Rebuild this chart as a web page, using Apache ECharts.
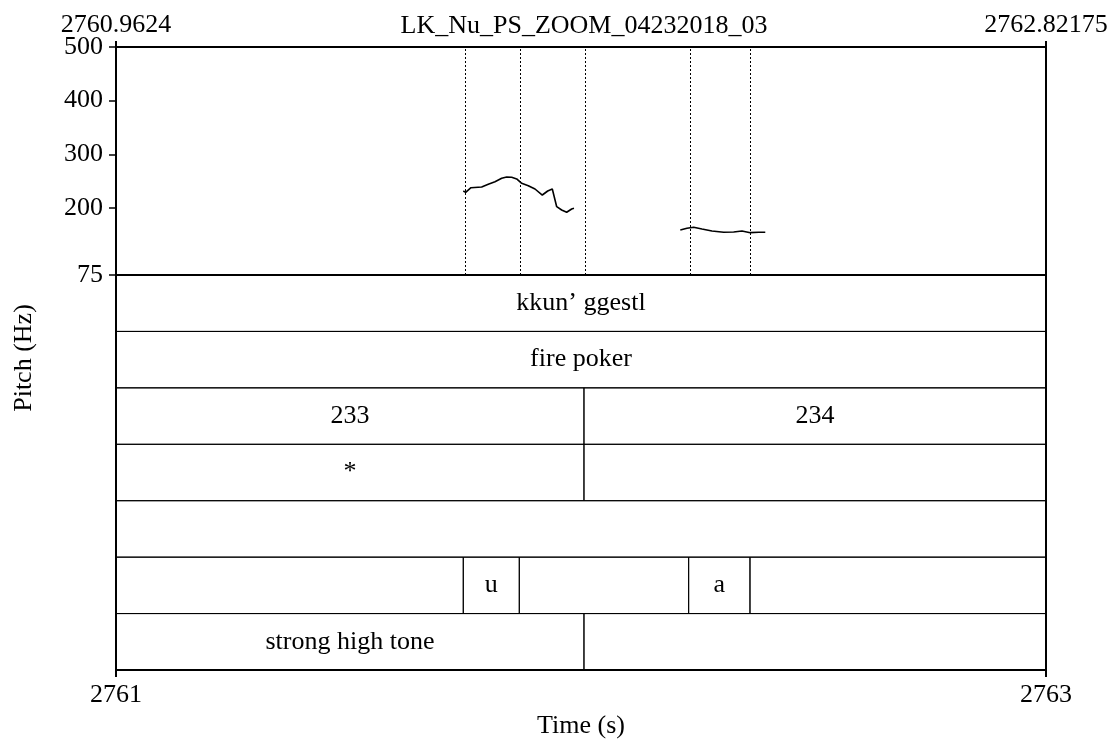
<!DOCTYPE html>
<html>
<head>
<meta charset="utf-8">
<title>LK_Nu_PS_ZOOM_04232018_03</title>
<script src="https://cdn.jsdelivr.net/npm/echarts@6/dist/echarts.min.js"></script>
<style>
  html, body { margin: 0; padding: 0; background: #fff; }
  #chart { width: 1112px; height: 740px; }
</style>
</head>
<body>
<div id="chart"></div>
<script>
// time window of the picture (s)
const timeStart = 2760.9624;
const timeEnd = 2762.82175;
const topTimeLabels = ['2760.9624', '2762.82175'];
const bottomTimeTicks = [2761, 2763];
const pitchTicks = [75, 200, 300, 400, 500];

// pitch contour, first voiced stretch
const pitchTime1 = [2761.6567, 2761.6615, 2761.6721, 2761.6935, 2761.7067, 2761.7201, 2761.7335,
  2761.7435, 2761.7535, 2761.7635, 2761.7735, 2761.7867, 2761.8001, 2761.8147, 2761.8255,
  2761.8347, 2761.8435, 2761.8534, 2761.8634, 2761.8734, 2761.8780];
const pitchHz1 = [231.6, 229.1, 237.7, 239.0, 244.1, 248.9, 255.2,
  257.7, 257.1, 254.0, 245.9, 241.5, 235.3, 224.1, 231.6,
  235.3, 202.3, 196.2, 191.9, 198.0, 199.3];

// pitch contour, second voiced stretch
const pitchTime2 = [2762.0906, 2762.1039, 2762.1173, 2762.1339, 2762.1539, 2762.1773,
  2762.1973, 2762.2139, 2762.2305, 2762.2473, 2762.2605];
const pitchHz2 = [158.9, 162.0, 163.9, 160.7, 157.0, 154.6,
  155.2, 157.0, 153.9, 154.6, 154.6];

// boundaries drawn as dotted lines over the pitch panel
const boundaries = [2761.6567, 2761.7687, 2761.8980, 2762.1073, 2762.2299];

// textgrid tiers: inner boundaries and interval labels
const tierBounds = [
  [],
  [],
  [2761.8980],
  [2761.8980],
  [],
  [2761.6567, 2761.7687, 2762.1073, 2762.2299],
  [2761.8980]
];
const tierTexts = [
  ['kkun\u2019 ggestl'],
  ['fire poker'],
  ['233', '234'],
  ['*', ''],
  [''],
  ['', 'u', '', 'a', ''],
  ['strong high tone', '']
];

const FONT = 'Liberation Serif';
const FS = 26;

// intervals [start, end, tier, label]
const intervals = [];
tierTexts.forEach((texts, i) => {
  const edges = [timeStart].concat(tierBounds[i], [timeEnd]);
  texts.forEach((txt, j) => {
    intervals.push([edges[j], edges[j + 1], i, txt]);
  });
});

const pitchData = [];
pitchTime1.forEach((t, i) => pitchData.push([t, pitchHz1[i]]));
pitchData.push([null, null]);
pitchTime2.forEach((t, i) => pitchData.push([t, pitchHz2[i]]));

const chart = echarts.init(document.getElementById('chart'));

const option = {
  animation: false,
  backgroundColor: '#fff',
  textStyle: { fontFamily: FONT, color: '#000' },
  title: {
    text: 'LK_Nu_PS_ZOOM_04232018_03',
    left: 579,
    top: 8,
    textAlign: 'center',
    textStyle: { fontFamily: FONT, fontSize: FS, fontWeight: 'normal', color: '#000' }
  },
  graphic: [{
    type: 'text',
    x: 24,
    y: 358,
    rotation: Math.PI / 2,
    style: {
      text: 'Pitch (Hz)',
      font: FS + 'px "' + FONT + '"',
      fill: '#000',
      align: 'center',
      verticalAlign: 'middle'
    }
  }],
  grid: [
    { left: 116, width: 930, top: 47, height: 228, outerBoundsMode: 'none', containLabel: false,
      show: true, borderColor: '#000', borderWidth: 2 },
    { left: 116, width: 930, top: 275, height: 395, outerBoundsMode: 'none', containLabel: false,
      show: true, borderColor: '#000', borderWidth: 2 }
  ],
  xAxis: [
    {
      gridIndex: 0,
      type: 'value',
      position: 'top',
      min: timeStart,
      max: timeEnd,
      splitLine: { show: false },
      axisLine: { show: true, onZero: false, lineStyle: { color: '#000', width: 2 } },
      axisTick: { show: true, length: 6, customValues: [timeStart, timeEnd], lineStyle: { color: '#000', width: 2 } },
      axisLabel: {
        customValues: [timeStart, timeEnd],
        margin: 9,
        fontFamily: FONT,
        fontSize: FS,
        color: '#000',
        formatter: (v) => (Math.abs(v - timeStart) < 1e-6 ? topTimeLabels[0] : topTimeLabels[1])
      }
    },
    {
      gridIndex: 1,
      type: 'value',
      min: timeStart,
      max: timeEnd,
      show: false
    },
    {
      gridIndex: 1,
      type: 'value',
      position: 'bottom',
      min: bottomTimeTicks[0],
      max: bottomTimeTicks[bottomTimeTicks.length - 1],
      name: 'Time (s)',
      nameLocation: 'middle',
      nameGap: 40,
      nameTextStyle: { fontFamily: FONT, fontSize: FS, color: '#000', verticalAlign: 'top' },
      splitLine: { show: false },
      axisLine: { show: true, onZero: false, lineStyle: { color: '#000', width: 2 } },
      axisTick: { show: true, length: 7, customValues: bottomTimeTicks, lineStyle: { color: '#000', width: 2 } },
      axisLabel: {
        customValues: bottomTimeTicks,
        margin: 12,
        fontFamily: FONT,
        fontSize: FS,
        color: '#000',
        formatter: (v) => String(v)
      }
    }
  ],
  yAxis: [
    {
      gridIndex: 0,
      type: 'value',
      min: 75,
      max: 500,
      splitLine: { show: false },
      axisLine: { show: true, onZero: false, lineStyle: { color: '#000', width: 2 } },
      axisTick: { show: true, length: 7, customValues: pitchTicks, lineStyle: { color: '#000', width: 1.5 } },
      axisLabel: {
        customValues: pitchTicks,
        margin: 13,
        fontFamily: FONT,
        fontSize: FS,
        color: '#000'
      }
    },
    {
      gridIndex: 1,
      type: 'value',
      min: 0,
      max: tierTexts.length,
      inverse: true,
      show: false
    }
  ],
  series: [
    {
      type: 'line',
      xAxisIndex: 0,
      yAxisIndex: 0,
      data: pitchData,
      showSymbol: false,
      connectNulls: false,
      lineStyle: { color: '#000', width: 1.6 },
      markLine: {
        silent: true,
        symbol: 'none',
        label: { show: false },
        lineStyle: { color: '#000', width: 1, type: [2, 2] },
        data: boundaries.map((b) => ({ xAxis: b }))
      }
    },
    {
      type: 'custom',
      xAxisIndex: 1,
      yAxisIndex: 1,
      data: intervals,
      renderItem: function (params, api) {
        const item = intervals[params.dataIndex];
        const p0 = api.coord([item[0], item[2]]);
        const p1 = api.coord([item[1], item[2] + 1]);
        return {
          type: 'group',
          children: [
            {
              type: 'rect',
              shape: { x: p0[0], y: p0[1], width: p1[0] - p0[0], height: p1[1] - p0[1] },
              style: { fill: 'none', stroke: '#000', lineWidth: 1 }
            },
            {
              type: 'text',
              style: {
                text: item[3],
                x: (p0[0] + p1[0]) / 2,
                y: (p0[1] + p1[1]) / 2,
                align: 'center',
                verticalAlign: 'middle',
                font: FS + 'px "' + FONT + '"',
                fill: '#000'
              }
            }
          ]
        };
      }
    }
  ]
};

chart.setOption(option);
</script>
</body>
</html>
